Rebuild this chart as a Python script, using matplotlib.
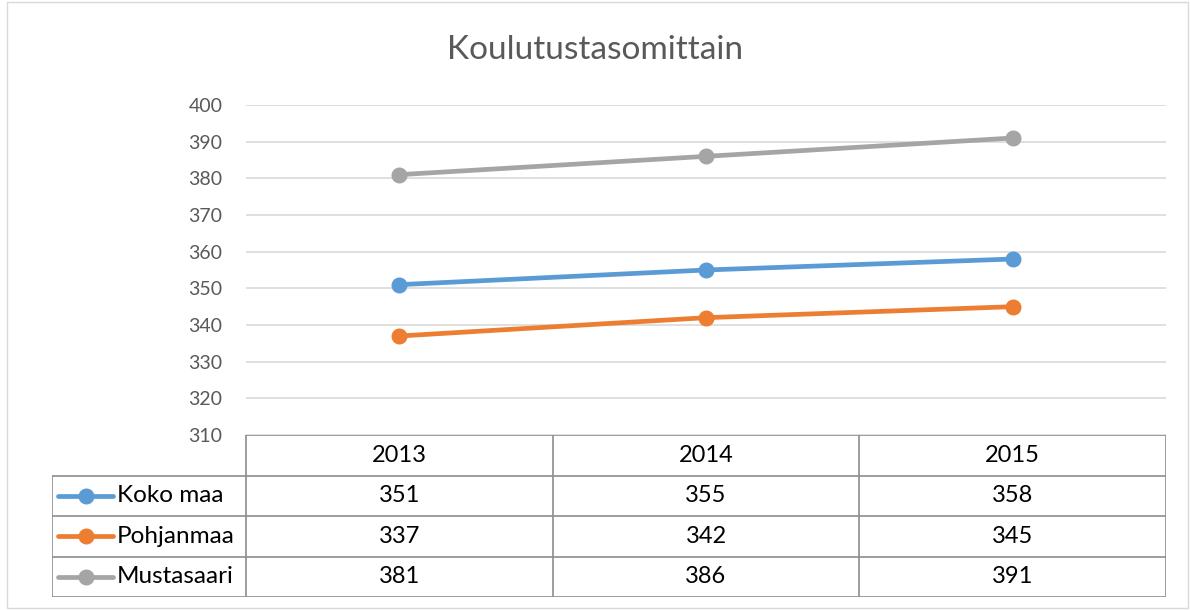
import matplotlib.pyplot as plt
from matplotlib.patches import Rectangle

years = ["2013", "2014", "2015"]
series = ["Koko maa", "Pohjanmaa", "Mustasaari"]
koko_maa = [351, 355, 358]
pohjanmaa = [337, 342, 345]
mustasaari = [381, 386, 391]
values = [koko_maa, pohjanmaa, mustasaari]
colors = ["#5B9BD5", "#ED7D31", "#A5A5A5"]
yticks = [310, 320, 330, 340, 350, 360, 370, 380, 390, 400]

plt.rcParams['font.family'] = ['Lato', 'DejaVu Sans']

W, H = 1190, 610
fig = plt.figure(figsize=(W / 100, H / 100), dpi=100)

# chart frame
fig.patches.append(Rectangle((7 / W, 2 / H), (W - 9) / W, (H - 4) / H,
                             transform=fig.transFigure, fill=False,
                             edgecolor="#D9D9D9", linewidth=1))

def fx(px):
    return px / W

def fy(py):
    return 1 - py / H

x0, x1 = 246, 1166
ax = fig.add_axes([fx(x0), fy(435), fx(x1) - fx(x0), fy(105) - fy(435)])
xs = list(range(len(years)))
for vals, c in zip(values, colors):
    ax.plot(xs, vals, color=c, linewidth=3.4, marker="o", markersize=10.5,
            solid_capstyle="round", zorder=3)
ax.set_xlim(-0.5, len(years) - 0.5)
ax.set_ylim(310, 400)
ax.set_yticks(yticks)
ax.set_xticks([])
ax.grid(axis="y", color="#D9D9D9", linewidth=1.2)
for s in ax.spines.values():
    s.set_visible(False)
ax.tick_params(axis="y", length=0, pad=17, labelsize=14, labelcolor="#595959")
ax.set_axisbelow(True)

fig.text(0.5, fy(50), "Koulutustasomittain", ha="center", va="center",
         fontsize=24, color="#595959")

# data table
unit = (x1 - x0) / len(years)
left = -0.5 - (x0 - 52) / unit
tax = fig.add_axes([fx(52), fy(597), fx(x1) - fx(52), fy(435) - fy(597)])
tax.set_xlim(left, len(years) - 0.5)
tax.set_ylim(len(series) + 1, 0)
tax.axis("off")
lc = "#8C8C8C"
lw = 1.2
# header row
tax.plot([-0.5, len(years) - 0.5], [0, 0], color=lc, lw=lw)
for r in range(1, len(series) + 2):
    tax.plot([left, len(years) - 0.5], [r, r], color=lc, lw=lw)
tax.plot([left, left], [1, len(series) + 1], color=lc, lw=lw)
for c in range(len(years) + 1):
    tax.plot([c - 0.5, c - 0.5], [0, len(series) + 1], color=lc, lw=lw)
for i, yr in enumerate(years):
    tax.text(i, 0.5, yr, ha="center", va="center", fontsize=17, color="black")
for r, (name, vals, c) in enumerate(zip(series, values, colors)):
    yy = r + 1.5
    lx = [left + 0.02, left + 0.2]
    tax.plot(lx, [yy, yy], color=c, lw=3.4, solid_capstyle="round")
    tax.plot([sum(lx) / 2], [yy], marker="o", color=c, markersize=10.5)
    tax.text(left + 0.212, yy, name, ha="left", va="center", fontsize=17.5, color="black")
    for i, v in enumerate(vals):
        tax.text(i, yy, str(v), ha="center", va="center", fontsize=17, color="black")

fig.savefig("out.png", dpi=100)
